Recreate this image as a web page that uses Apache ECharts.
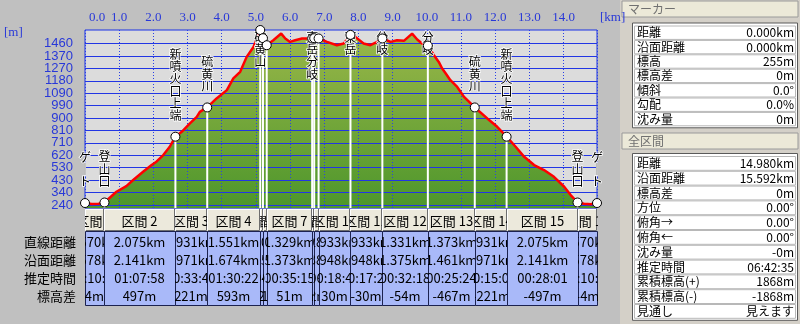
<!DOCTYPE html>
<html>
<head>
<meta charset="utf-8">
<script src="https://cdn.jsdelivr.net/npm/echarts@6.0.0/dist/echarts.min.js"></script>
<style>
  html, body { margin: 0; padding: 0; background: #c0c0c0; }
  #main { width: 800px; height: 324px; }
</style>
</head>
<body>
<div id="main"></div>
<script>
// 断面図のデータ (距離 km / 標高 m)
const profileKm = [0, 0.20, 0.40, 0.57, 0.62, 0.92, 1.21, 1.41, 1.70, 1.95, 2.09, 2.29, 2.48, 2.645, 2.83, 3.07, 3.27, 3.36, 3.576, 3.85, 4.15, 4.34, 4.54, 4.73, 4.93, 5.127, 5.207, 5.317, 5.51, 5.74, 5.86, 6.00, 6.15, 6.35, 6.646, 6.706, 6.834, 6.88, 7.08, 7.37, 7.57, 7.767, 7.91, 8.15, 8.35, 8.55, 8.70, 8.94, 9.13, 9.33, 9.57, 9.72, 9.86, 10.031, 10.21, 10.35, 10.45, 10.55, 10.69, 10.89, 11.09, 11.404, 11.77, 12.06, 12.335, 12.60, 12.85, 13.14, 13.43, 13.72, 14.02, 14.21, 14.41, 14.60, 14.80, 14.98];
const profileElev = [255, 248, 250, 259, 265, 340, 383, 429, 491, 542, 567, 617, 680, 756, 793, 856, 906, 944, 977, 1045, 1108, 1196, 1246, 1359, 1434, 1562, 1500, 1447, 1485, 1535, 1498, 1472, 1485, 1498, 1498, 1500, 1498, 1485, 1472, 1447, 1460, 1525, 1510, 1460, 1447, 1472, 1498, 1472, 1485, 1480, 1535, 1490, 1460, 1444, 1372, 1321, 1271, 1235, 1183, 1132, 1057, 977, 894, 831, 756, 680, 604, 542, 504, 453, 378, 315, 259, 250, 245, 255];

// ポイント
const wpKm = [0, 0.570, 2.645, 3.576, 5.127, 5.207, 5.317, 6.646, 6.706, 6.834, 7.767, 8.700, 10.031, 11.404, 12.335, 14.410, 14.980];
const wpElev = [255, 259, 756, 977, 1562, 1500, 1447, 1498, 1500, 1498, 1525, 1498, 1444, 977, 756, 259, 255];
const wpNames = ['ゲート', '登山口', '新噴火口上端', '硫黄川', '硫黄山', '', '', '東岳分岐', '', '', '東岳', '分岐', '分岐', '硫黄川', '新噴火口上端', '登山口', 'ゲート'];

// 区間ごとの値
const segStraight = [0.570, 2.075, 0.931, 1.551, 0.080, 0.110, 1.329, 0.060, 0.128, 0.933, 0.933, 1.331, 1.373, 0.931, 2.075, 0.570];
const segSurface = [0.578, 2.141, 0.971, 1.674, 0.095, 0.125, 1.373, 0.075, 0.138, 0.948, 0.948, 1.375, 1.461, 0.971, 2.141, 0.578];
const segTime = ['00:10:32', '01:07:58', '00:33:41', '01:30:22', '00:04:50', '00:03:20', '00:35:15', '00:02:45', '00:06:42', '00:18:40', '00:17:26', '00:32:18', '00:25:24', '00:15:03', '00:28:01', '00:10:12'];
const segDiff = [4, 497, 221, 593, -52, -71, 51, 2, -2, 30, -30, -54, -467, -221, -497, -4];
const rowNames = ['直線距離', '沿面距離', '推定時間', '標高差'];

// 目盛り
const yTickLabels = [240, 340, 430, 530, 620, 710, 810, 900, 990, 1090, 1180, 1270, 1370, 1460];
const xMaxKm = 14.98;

// 右側パネル
const markerRows = [['距離', '0.000km'], ['沿面距離', '0.000km'], ['標高', '255m'], ['標高差', '0m'], ['傾斜', '0.0°'], ['勾配', '0.0%'], ['沈み量', '0m']];
const totalRows = [['距離', '14.980km'], ['沿面距離', '15.592km'], ['標高差', '0m'], ['方位', '0.00°'], ['俯角→', '0.00°'], ['俯角←', '0.00°'], ['沈み量', '-0m'], ['推定時間', '06:42:35'], ['累積標高(+)', '1868m'], ['累積標高(-)', '-1868m'], ['見通し', '見えます']];

const Y_MIN = 217.4, Y_MAX = 1562;
const FONT = '"Noto Sans CJK JP", sans-serif';
const BLUE = '#2838d8';
// 目盛りは等間隔、ラベルは丸めた値
const yStep = (yTickLabels[yTickLabels.length - 1] - yTickLabels[0]) / (yTickLabels.length - 1);
const yTickPos = yTickLabels.map((v, i) => yTickLabels[0] + i * yStep);

const HEAD_TOP = 209, HEAD_BOTTOM = 231, BODY_BOTTOM = 306;
const rowY = [242, 260, 278, 296];

let myChart = echarts.init(document.getElementById('main'));

function fmtDiff(v) { return v + 'm'; }

// ポイントの白線とラベル
function renderWaypoint(params, api) {
  const i = params.dataIndex;
  const p = api.coord([api.value(0), api.value(1)]);
  const base = api.coord([api.value(0), Y_MIN]);
  const chars = wpNames[i].replace(/ー/g, '｜').split('');
  const lh = 12.3;
  let top = p[1] - 15 - chars.length * lh;
  if (top < params.coordSys.y + 1) top = params.coordSys.y + 1;
  const children = [{
    type: 'line',
    shape: { x1: p[0], y1: p[1], x2: p[0], y2: base[1] },
    style: { stroke: '#ffffff', lineWidth: 2 }
  }];
  if (chars.length) {
    children.push({
      type: 'text', x: p[0], y: top, z2: 10,
      style: {
        text: chars.join('\n'), fill: '#000', font: '12px ' + FONT,
        align: 'center', verticalAlign: 'top', lineHeight: lh,
        stroke: '#ffffff', lineWidth: 1.5
      }
    });
  }
  return { type: 'group', children: children };
}

// 区間の表
function renderSegment(params, api) {
  const i = params.dataIndex;
  const x0 = Math.round(api.coord([api.value(0), Y_MIN])[0]);
  const x1 = Math.round(api.coord([api.value(1), Y_MIN])[0]);
  const w = x1 - x0, cx = (x0 + x1) / 2;
  const vals = [segStraight[i].toFixed(3) + 'km', segSurface[i].toFixed(3) + 'km', segTime[i], fmtDiff(segDiff[i])];
  const children = [
    { type: 'rect', shape: { x: x0, y: HEAD_TOP, width: w, height: HEAD_BOTTOM - HEAD_TOP }, style: { fill: '#ece9dc' } },
    { type: 'polyline', shape: { points: [[x0 + 0.5, HEAD_BOTTOM - 1], [x0 + 0.5, HEAD_TOP + 0.5], [x1 - 1, HEAD_TOP + 0.5]] }, style: { stroke: '#ffffff', lineWidth: 1, fill: null } },
    { type: 'polyline', shape: { points: [[x0 + 1, HEAD_BOTTOM - 0.5], [x1 - 0.5, HEAD_BOTTOM - 0.5], [x1 - 0.5, HEAD_TOP]] }, style: { stroke: '#6e6e6e', lineWidth: 1, fill: null } },
    { type: 'text', x: cx, y: (HEAD_TOP + HEAD_BOTTOM) / 2 + 1, style: { text: '区間 ' + (i + 1), fill: '#000', font: '13px ' + FONT, align: 'center', verticalAlign: 'middle' } },
    { type: 'rect', shape: { x: x0 + 0.5, y: HEAD_BOTTOM + 0.5, width: w, height: BODY_BOTTOM - HEAD_BOTTOM - 1 }, style: { fill: '#a9b9f9', stroke: '#1c2250', lineWidth: 1 } }
  ];
  vals.forEach((t, r) => {
    children.push({ type: 'text', x: cx, y: rowY[r], style: { text: t, fill: '#000', font: '13px ' + FONT, align: 'center', verticalAlign: 'middle' } });
  });
  return {
    type: 'group',
    clipPath: { type: 'rect', shape: { x: x0, y: HEAD_TOP, width: w + 1, height: BODY_BOTTOM - HEAD_TOP } },
    children: children
  };
}

// 右側パネルなどの固定部品
const graphics = [];
graphics.push({ type: 'rect', shape: { x: 620, y: 0, width: 180, height: 324 }, style: { fill: '#d4d0c8' }, z: -1 });
function panelHeader(y, title) {
  graphics.push({ type: 'rect', shape: { x: 622, y: y, width: 176, height: 16 }, style: { fill: '#ece9d8', stroke: '#9a9a9a', lineWidth: 1 } });
  graphics.push({ type: 'text', x: 628, y: y + 8, style: { text: title, fill: '#707070', font: '12px ' + FONT, verticalAlign: 'middle' } });
}
function panelList(top, rows, rh) {
  graphics.push({ type: 'rect', shape: { x: 632.5, y: top - 2.5, width: 165, height: rows.length * rh + 4 }, style: { fill: '#ffffff', stroke: '#5a5a5a', lineWidth: 1 } });
  rows.forEach((r, i) => {
    const y = top + i * rh;
    graphics.push({ type: 'rect', shape: { x: 634.5, y: y + 0.5, width: 161, height: rh - 1 }, style: { fill: null, stroke: '#b8b8b8', lineWidth: 1 } });
    graphics.push({ type: 'text', x: 637, y: y + rh / 2, style: { text: r[0], fill: '#000', font: '12px ' + FONT, verticalAlign: 'middle' } });
    graphics.push({ type: 'text', x: 794, y: y + rh / 2, style: { text: r[1], fill: '#000', font: '12px ' + FONT, align: 'right', verticalAlign: 'middle' } });
  });
}
panelHeader(1, 'マーカー');
panelList(25.5, markerRows, 14.4);
panelHeader(133, '全区間');
panelList(156, totalRows, 14.8);
rowNames.forEach((n, r) => {
  graphics.push({ type: 'text', x: 76, y: rowY[r], style: { text: n, fill: '#000', font: '13px ' + FONT, align: 'right', verticalAlign: 'middle' } });
});
graphics.push({ type: 'text', x: 4, y: 33, style: { text: '[m]', fill: BLUE, font: '13px "Liberation Serif", serif', verticalAlign: 'middle' } });
graphics.push({ type: 'text', x: 600, y: 18, style: { text: '[km]', fill: BLUE, font: '13px "Liberation Serif", serif', verticalAlign: 'middle' } });

var option = {
  backgroundColor: '#c0c0c0',
  animation: false,
  grid: {
    left: 85, right: 203, top: 30, bottom: 116,
    show: true, backgroundColor: '#dcdcdc', borderColor: '#1a32e6', borderWidth: 1,
    containLabel: false, outerBoundsMode: 'none'
  },
  xAxis: {
    type: 'value', position: 'top', min: 0, max: xMaxKm, interval: 1, z: 3,
    axisLine: { show: false }, axisTick: { show: false },
    axisLabel: {
      margin: 6, color: BLUE, fontSize: 13, fontFamily: '"Liberation Serif", serif',
      formatter: function (v) {
        if (Math.abs(v - Math.round(v)) > 1e-6) return '';
        return v === 0 ? '{z|0.0}' : v.toFixed(1);
      },
      rich: { z: { color: BLUE, fontSize: 13, fontFamily: '"Liberation Serif", serif', padding: [0, 0, 0, 24] } }
    },
    splitLine: { show: true, lineStyle: { color: '#2a40e8', type: [1, 2], width: 1 } }
  },
  yAxis: {
    type: 'value', min: Y_MIN, max: Y_MAX,
    axisLine: { show: false }, axisTick: { show: false },
    axisLabel: { show: false }, splitLine: { show: false }
  },
  graphic: graphics,
  series: [
    {
      name: 'area', type: 'line', z: 1, silent: true, showSymbol: false,
      data: profileKm.map((k, i) => [k, profileElev[i]]),
      lineStyle: { width: 0 },
      areaStyle: {
        origin: 'start', opacity: 1,
        color: new echarts.graphic.LinearGradient(0, 0, 0, 1, [
          { offset: 0, color: '#9cb84a' },
          { offset: 1, color: '#4d962b' }
        ])
      },
      // 横の目盛り線とラベル
      markLine: {
        silent: true, animation: false, symbol: ['none', 'none'], z: 5,
        lineStyle: { color: '#2236e4', width: 1, type: 'solid' },
        label: {
          show: true, position: 'start', distance: 12, formatter: '{b}',
          color: BLUE, fontSize: 13, fontFamily: '"Liberation Sans", sans-serif'
        },
        emphasis: { disabled: true },
        data: yTickPos.map((v, i) => ({ yAxis: v, name: String(yTickLabels[i]) }))
      }
    },
    {
      name: 'profile', type: 'line', z: 6, silent: true, showSymbol: false,
      data: profileKm.map((k, i) => [k, profileElev[i]]),
      lineStyle: { color: '#ff0000', width: 2.5 }
    },
    {
      name: 'waypoints', type: 'custom', z: 7, silent: true, clip: false,
      data: wpKm.map((k, i) => [k, wpElev[i]]),
      renderItem: renderWaypoint
    },
    {
      name: 'markers', type: 'scatter', z: 9, silent: true, clip: false,
      symbol: 'circle', symbolSize: 9,
      itemStyle: { color: '#ffffff', borderColor: '#000000', borderWidth: 1, opacity: 1 },
      data: wpKm.map((k, i) => [k, wpElev[i]])
    },
    {
      name: 'table', type: 'custom', z: 7, silent: true, clip: false,
      data: segStraight.map((s, i) => [wpKm[i], wpKm[i + 1], Y_MIN]),
      encode: { x: [0, 1], y: 2 },
      renderItem: renderSegment
    }
  ]
};
myChart.setOption(option);
</script>
</body>
</html>
